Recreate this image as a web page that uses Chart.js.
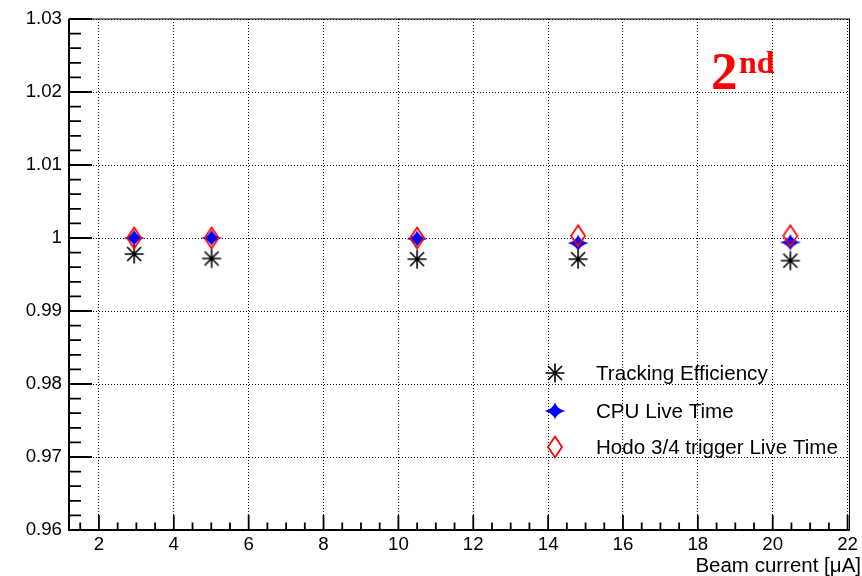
<!DOCTYPE html>
<html>
<head>
<meta charset="utf-8">
<script src="https://cdn.jsdelivr.net/npm/chart.js@4.4.1/dist/chart.umd.min.js"></script>
<style>
  html, body { margin: 0; padding: 0; background: #fff; }
</style>
</head>
<body>
<canvas id="c" width="862" height="576"></canvas>
<script>
// values
const beamCurrent = [2.94, 5.01, 10.5, 14.8, 20.47];
const trackingEff = [0.9978, 0.9972, 0.9971, 0.9971, 0.9969];
const cpuLive     = [1.0000, 1.0000, 0.9999, 0.9993, 0.9994];
const hodoLive    = [1.0000, 1.0000, 1.0000, 1.0003, 1.0003];
const seriesNames = ["Tracking Efficiency", "CPU Live Time", "Hodo 3/4 trigger Live Time"];
const xTicks = [2, 4, 6, 8, 10, 12, 14, 16, 18, 20, 22];
const yTicks = [0.96, 0.97, 0.98, 0.99, 1.00, 1.01, 1.02, 1.03];

const FONT = '"Liberation Sans", Arial, Helvetica, sans-serif';
const SERIF = '"Liberation Serif", "Times New Roman", serif';

function makeMarker(w, h, draw) {
  const c = document.createElement('canvas');
  c.width = w; c.height = h;
  draw(c.getContext('2d'), w / 2, h / 2);
  return c;
}

// ROOT style asterisk
const starMark = makeMarker(22, 22, (g, cx, cy) => {
  g.strokeStyle = '#000'; g.lineWidth = 1.6;
  const r = 9.5, d = 7;
  g.beginPath();
  g.moveTo(cx - r, cy); g.lineTo(cx + r, cy);
  g.moveTo(cx, cy - r); g.lineTo(cx, cy + r);
  g.moveTo(cx - d, cy - d); g.lineTo(cx + d, cy + d);
  g.moveTo(cx - d, cy + d); g.lineTo(cx + d, cy - d);
  g.stroke();
  g.fillStyle = '#000';
  g.beginPath(); g.arc(cx, cy, 2.2, 0, Math.PI * 2); g.fill();
});

// blue four point star
const cpuMark = makeMarker(24, 20, (g, cx, cy) => {
  g.fillStyle = '#0000ff';
  g.beginPath();
  g.moveTo(cx, cy - 8.5);
  g.quadraticCurveTo(cx + 2, cy - 2, cx + 10.5, cy);
  g.quadraticCurveTo(cx + 2, cy + 2, cx, cy + 8.5);
  g.quadraticCurveTo(cx - 2, cy + 2, cx - 10.5, cy);
  g.quadraticCurveTo(cx - 2, cy - 2, cx, cy - 8.5);
  g.fill();
});

// red open diamond
const hodoMark = makeMarker(18, 26, (g, cx, cy) => {
  g.strokeStyle = '#ff0000'; g.lineWidth = 1.8;
  g.beginPath();
  g.moveTo(cx, cy - 10.5); g.lineTo(cx + 7, cy);
  g.lineTo(cx, cy + 10.5); g.lineTo(cx - 7, cy);
  g.closePath();
  g.stroke();
});

const toPoints = ys => beamCurrent.map((x, i) => ({ x: x, y: ys[i] }));

// frame, inward ticks, legend box, axis title and the "2nd" tag
const rootDecor = {
  id: 'rootDecor',
  afterDraw(chart) {
    const ctx = chart.ctx;
    const a = chart.chartArea;
    const xs = chart.scales.x, ys = chart.scales.y;
    ctx.save();

    ctx.strokeStyle = '#000';
    ctx.lineWidth = 1;
    ctx.strokeRect(a.left, a.top, a.right - a.left, a.bottom - a.top);

    ctx.lineWidth = 2;
    ctx.beginPath();
    ctx.moveTo(a.left, a.top); ctx.lineTo(a.left, a.bottom); ctx.lineTo(a.right, a.bottom);
    ctx.stroke();

    ctx.lineWidth = 1.8;
    ctx.beginPath();
    for (let v = 1.5; v <= 22.01; v += 0.5) {
      const px = xs.getPixelForValue(v);
      const major = Math.abs(v - Math.round(v / 2) * 2) < 1e-6;
      ctx.moveTo(px, a.bottom);
      ctx.lineTo(px, a.bottom - (major ? 15 : 7.5));
    }
    for (let k = 0; k <= 35; k++) {
      const v = 0.96 + k * 0.002;
      const py = ys.getPixelForValue(v);
      ctx.moveTo(a.left, py);
      ctx.lineTo(a.left + (k % 5 === 0 ? 23 : 12), py);
    }
    ctx.stroke();

    // legend
    const marks = [starMark, cpuMark, hodoMark];
    const rowsY = [373, 411, 447];
    ctx.font = '20.6px ' + FONT;
    ctx.fillStyle = '#000';
    ctx.textBaseline = 'middle';
    ctx.textAlign = 'left';
    marks.forEach((m, i) => {
      ctx.drawImage(m, 555 - m.width / 2, rowsY[i] - m.height / 2);
      ctx.fillText(seriesNames[i], 596, rowsY[i] + 1);
    });

    // x axis title, right aligned past the frame like ROOT does
    ctx.textAlign = 'right';
    ctx.textBaseline = 'alphabetic';
    ctx.font = '20.5px ' + FONT;
    ctx.fillText('Beam current [μA]', 861, 572);

    // 2nd tag
    ctx.textAlign = 'left';
    ctx.fillStyle = '#ff0000';
    ctx.font = 'bold 53px ' + SERIF;
    ctx.fillText('2', 711, 89);
    ctx.font = 'bold 32px ' + SERIF;
    ctx.fillText('nd', 739, 73);

    ctx.restore();
  }
};

new Chart(document.getElementById('c'), {
  type: 'scatter',
  data: {
    datasets: [
      { label: seriesNames[2], data: toPoints(hodoLive), pointStyle: hodoMark, order: 0 },
      { label: seriesNames[1], data: toPoints(cpuLive), pointStyle: cpuMark, order: 1 },
      { label: seriesNames[0], data: toPoints(trackingEff), pointStyle: starMark, order: 2 }
    ]
  },
  options: {
    responsive: false,
    animation: false,
    devicePixelRatio: 1,
    layout: { padding: { top: 19, right: 9, left: 0, bottom: 0 } },
    plugins: {
      legend: { display: false },
      tooltip: { enabled: false }
    },
    scales: {
      x: {
        type: 'linear',
        min: 1.2,
        max: 22.05,
        afterBuildTicks: s => { s.ticks = xTicks.map(v => ({ value: v })); },
        afterFit: s => { s.height = 46; },
        grid: { color: '#000', lineWidth: 1, drawTicks: false },
        border: { display: false, dash: [1, 2] },
        ticks: {
          color: '#000', padding: 4,
          font: { family: FONT, size: 18.7 },
          maxRotation: 0, autoSkip: false
        }
      },
      y: {
        type: 'linear',
        min: 0.96,
        max: 1.03,
        afterBuildTicks: s => { s.ticks = yTicks.map(v => ({ value: v })); },
        afterFit: s => { s.width = 69; },
        grid: { color: '#000', lineWidth: 1, drawTicks: false },
        border: { display: false, dash: [1, 2] },
        ticks: {
          color: '#000', padding: 7,
          font: { family: FONT, size: 18.7 },
          callback: v => parseFloat(Number(v).toFixed(2)).toString()
        }
      }
    }
  },
  plugins: [rootDecor]
});
</script>
</body>
</html>
